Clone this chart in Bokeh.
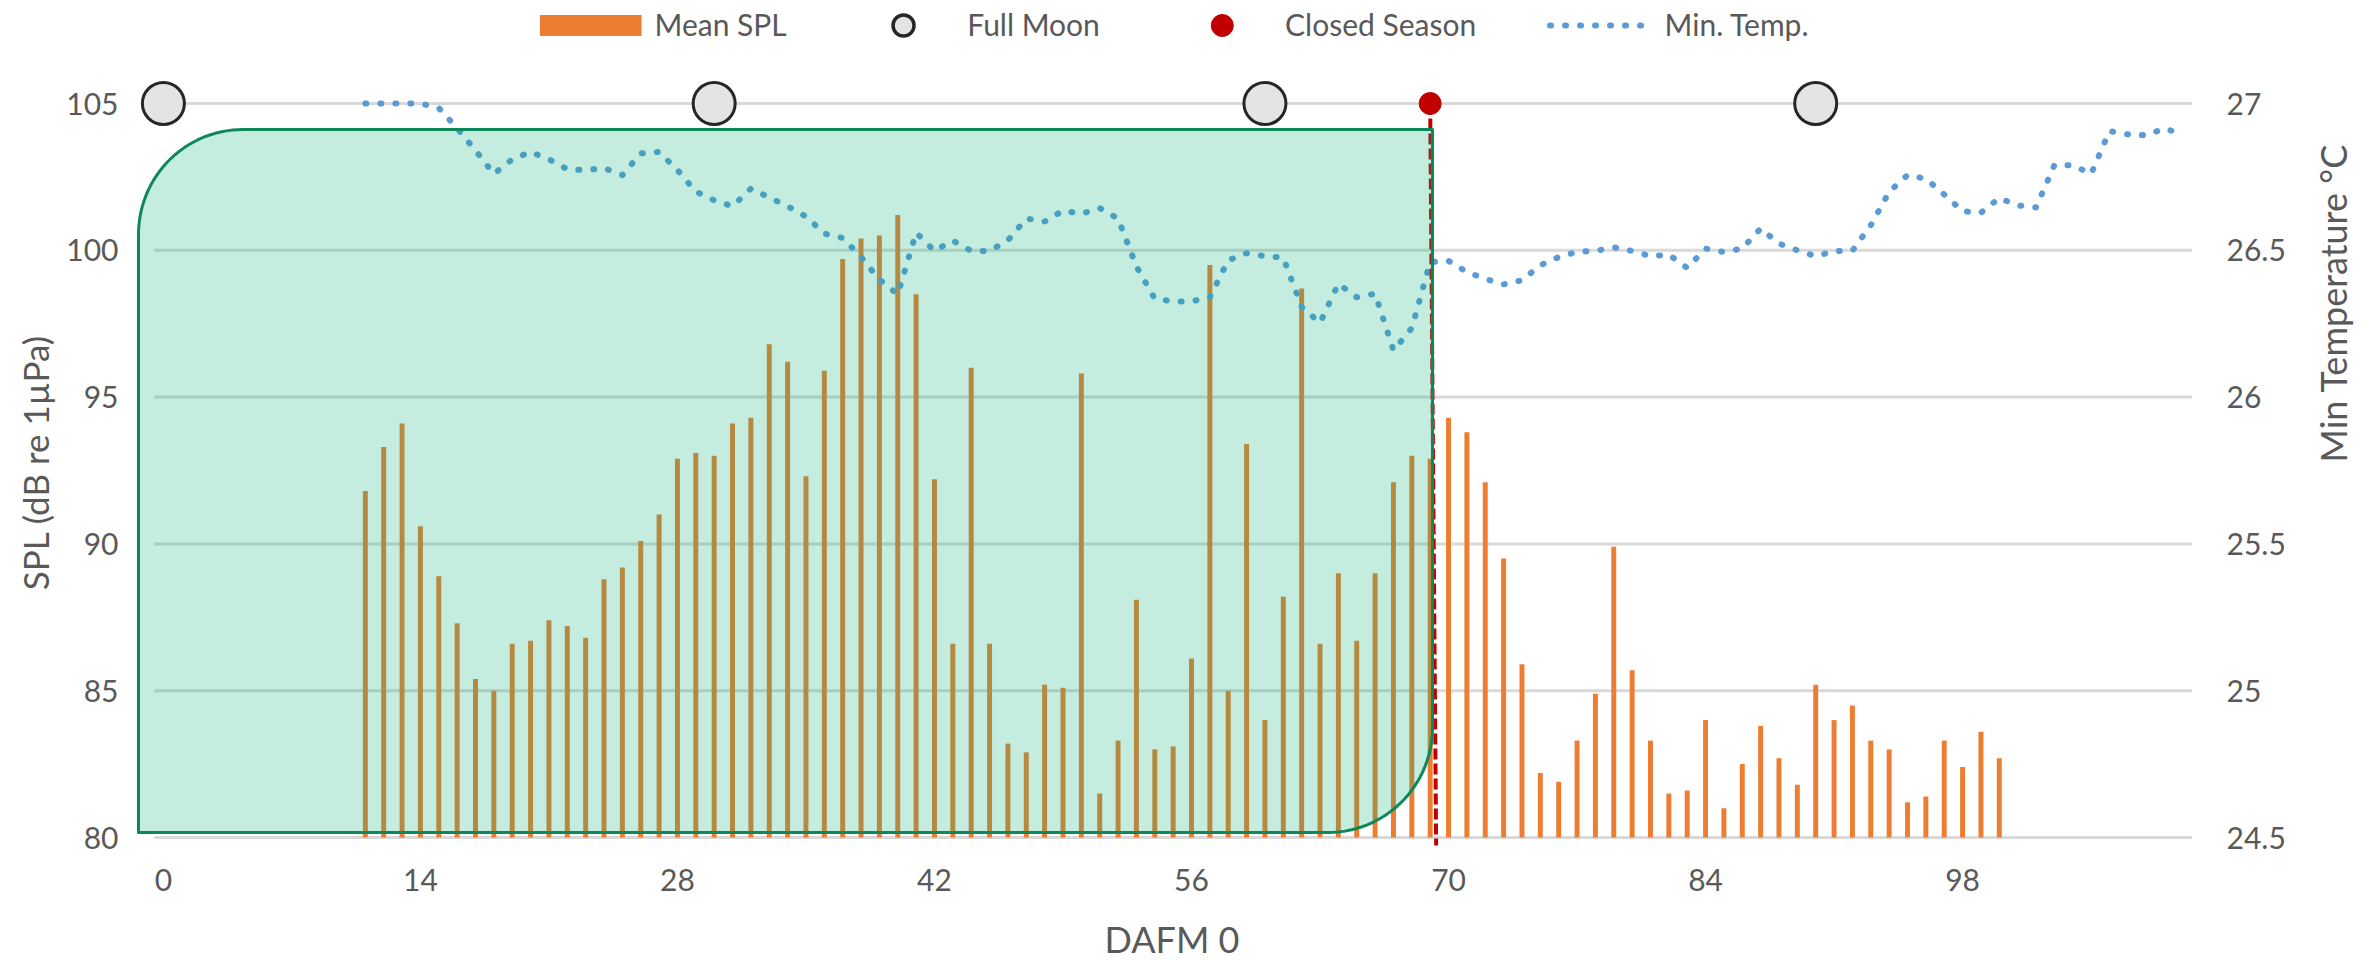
import math
import numpy as np
from bokeh.plotting import figure
from bokeh.layouts import column
from bokeh.models import Range1d, LinearAxis, FixedTicker, CustomJSTickFormatter
from bokeh.core.properties import value
from bokeh.embed import file_html
from bokeh.resources import INLINE

# ---------------- data ----------------
spl_days = list(range(11, 101))
spl_values = [
    91.8, 93.3, 94.1, 90.6, 88.9, 87.3, 85.4, 85.0, 86.6, 86.7,
    87.4, 87.2, 86.8, 88.8, 89.2, 90.1, 91.0, 92.9, 93.1, 93.0,
    94.1, 94.3, 96.8, 96.2, 92.3, 95.9, 99.7, 100.4, 100.5, 101.2,
    98.5, 92.2, 86.6, 96.0, 86.6, 83.2, 82.9, 85.2, 85.1, 95.8,
    81.5, 83.3, 88.1, 83.0, 83.1, 86.1, 99.5, 85.0, 93.4, 84.0,
    88.2, 98.7, 86.6, 89.0, 86.7, 89.0, 92.1, 93.0, 92.9, 94.3,
    93.8, 92.1, 89.5, 85.9, 82.2, 81.9, 83.3, 84.9, 89.9, 85.7,
    83.3, 81.5, 81.6, 84.0, 81.0, 82.5, 83.8, 82.7, 81.8, 85.2,
    84.0, 84.5, 83.3, 83.0, 81.2, 81.4, 83.3, 82.4, 83.6, 82.7,
]
temp_days = list(range(11, 111))
temp_values = [
    27.0, 27.0, 27.0, 27.0, 26.985, 26.915, 26.84, 26.76, 26.81, 26.835,
    26.81, 26.776, 26.773, 26.78, 26.756, 26.83, 26.835, 26.773, 26.70, 26.67,
    26.65, 26.71, 26.68, 26.65, 26.615, 26.557, 26.542, 26.477, 26.40, 26.35,
    26.56, 26.498, 26.533, 26.498, 26.498, 26.534, 26.608, 26.598, 26.635, 26.624,
    26.644, 26.608, 26.445, 26.335, 26.326, 26.326, 26.34, 26.466, 26.49, 26.48,
    26.475, 26.307, 26.253, 26.386, 26.34, 26.352, 26.159, 26.235, 26.46, 26.464,
    26.426, 26.403, 26.384, 26.398, 26.449, 26.477, 26.495, 26.498, 26.51, 26.498,
    26.48, 26.485, 26.44, 26.506, 26.494, 26.506, 26.574, 26.523, 26.5, 26.48,
    26.497, 26.499, 26.585, 26.699, 26.756, 26.744, 26.69, 26.633, 26.628, 26.678,
    26.653, 26.646, 26.79, 26.79, 26.76, 26.906, 26.895, 26.892, 26.915, 26.894,
]
full_moon_days = [0, 30, 60, 90]
full_moon_level = [105, 105, 105, 105]
closed_season_days = [69]
closed_season_level = [105]
x_ticks = [0, 14, 28, 42, 56, 70, 84, 98]
spl_ticks = [80, 85, 90, 95, 100, 105]
temp_ticks = [24.5, 25, 25.5, 26, 26.5, 27]
legend_labels = ["Mean SPL", "Full Moon", "Closed Season", "Min. Temp."]
x_title = "DAFM 0"

# ---------------- layout (page px) ----------------
W = 2379
LEG_H = 78                       # legend strip height
MAIN_H = 828                     # plot (frame + tick labels)
BOT_H = 54                       # x-title strip
FL, FR, FT, FB = 136, 2215, 78, 846   # plot frame edges (page coords)
X0_PX, PX_PER_DAY = 163.0, 18.43     # day 0 position
Y105_PX, Y80_PX = 103.0, 837.0       # 105 and 80 dB positions

spl_ppu = (Y80_PX - Y105_PX) / 25.0
t_ppu = (Y80_PX - Y105_PX) / 2.5
x_lo = (FL - X0_PX) / PX_PER_DAY
x_hi = (FR - X0_PX) / PX_PER_DAY
y_hi = 105 + (Y105_PX - FT) / spl_ppu
y_lo = 80 - (FB - Y80_PX) / spl_ppu
t_hi = 27 + (Y105_PX - FT) / t_ppu
t_lo = 24.5 - (FB - Y80_PX) / t_ppu


def px_x(px):
    return (px - X0_PX) / PX_PER_DAY


def px_y(py):
    return 105 - (py - Y105_PX) / spl_ppu


TEXT = "#595959"
FONT = "Lato"
ORANGE = "#ED7D31"
BLUE = "#5B9BD5"
RED = "#C00000"
MOON_FILL = "#E4E4E4"
MOON_LINE = "#262626"

p = figure(width=W, height=MAIN_H, x_range=Range1d(x_lo, x_hi), y_range=Range1d(y_lo, y_hi),
           output_backend="svg", toolbar_location=None,
           min_border_left=FL, min_border_right=W - FR, min_border_top=0,
           min_border_bottom=MAIN_H - (FB - LEG_H))
p.extra_y_ranges = {"temp": Range1d(t_lo, t_hi)}
p.outline_line_color = None
p.background_fill_color = "white"
p.border_fill_color = "white"
p.xgrid.visible = False
p.ygrid.visible = False

# gridlines spanning the category area (-0.5 .. 110.5)
p.segment(x0=[-0.5] * len(spl_ticks), x1=[110.5] * len(spl_ticks), y0=spl_ticks, y1=spl_ticks,
          line_color="#D9D9D9", line_width=3)

# bars
p.vbar(x=spl_days, top=spl_values, bottom=80, width=0.27, fill_color=ORANGE, line_color=None)

# temperature line (right axis)
p.line(temp_days, temp_values, y_range_name="temp", line_color=BLUE, line_width=6,
       line_dash="1 14", line_cap="round", line_join="round")

# closed season dashed line
slant = 6.0 / PX_PER_DAY
p.segment(x0=closed_season_days, y0=closed_season_level,
          x1=[d + slant for d in closed_season_days], y1=[px_y(FB - 1)],
          line_color=RED, line_width=4, line_dash="11 4")

# green rounded-diagonal rectangle (season shading)
L, R, T, B, r = 138.0, 1437.0, 129.0, 832.0, 105.0
pts = [(L, B), (L, T + r)]
for a in np.linspace(math.pi, 1.5 * math.pi, 30):
    pts.append((L + r + r * math.cos(a), T + r + r * math.sin(a)))
pts += [(R, T), (R, B - r)]
for a in np.linspace(0, 0.5 * math.pi, 30):
    pts.append((R - r + r * math.cos(a), B - r + r * math.sin(a)))
pts.append((L, B))
p.patch([px_x(a) for a, _ in pts], [px_y(b) for _, b in pts],
        fill_color="#00B07A", fill_alpha=0.23, line_color="#0E875B", line_width=3,
        line_join="round")

# markers
p.scatter(full_moon_days, full_moon_level, size=42, fill_color=MOON_FILL,
          line_color=MOON_LINE, line_width=3)
p.scatter(closed_season_days, closed_season_level, size=22, fill_color=RED,
          line_color=RED, line_width=1)


def style_axis(ax, title_size):
    ax.axis_line_color = None
    ax.major_tick_line_color = None
    ax.minor_tick_line_color = None
    ax.major_tick_out = 0
    ax.major_tick_in = 0
    ax.minor_tick_out = 0
    ax.minor_tick_in = 0
    ax.major_label_text_font = FONT
    ax.major_label_text_font_size = "30px"
    ax.major_label_text_color = TEXT
    ax.axis_label_text_font = FONT
    ax.axis_label_text_font_size = title_size
    ax.axis_label_text_font_style = "normal"
    ax.axis_label_text_color = TEXT


xa = p.xaxis[0]
style_axis(xa, "36px")
xa.ticker = FixedTicker(ticks=x_ticks)
xa.major_label_standoff = 22

ya = p.yaxis[0]
style_axis(ya, "35px")
ya.ticker = FixedTicker(ticks=spl_ticks)
ya.axis_label = "SPL (dB re 1µPa)"
ya.major_label_standoff = 18
ya.axis_label_standoff = 7

ra = LinearAxis(y_range_name="temp", ticker=FixedTicker(ticks=temp_ticks),
                formatter=CustomJSTickFormatter(code="return String(tick)"),
                axis_label="Min Temperature °C")
style_axis(ra, "36px")
ra.major_label_standoff = 19
ra.axis_label_standoff = 44
try:
    ra.axis_label_orientation = math.pi / 2
except Exception:
    pass
p.add_layout(ra, "right")


def strip(height):
    f = figure(width=W, height=height, x_range=Range1d(FL, FR), y_range=Range1d(height, 0),
               output_backend="svg", toolbar_location=None, x_axis_type=None, y_axis_type=None,
               min_border_left=FL, min_border_right=W - FR, min_border_top=0,
               min_border_bottom=0)
    f.outline_line_color = None
    f.background_fill_color = "white"
    f.border_fill_color = "white"
    return f


# ---------------- legend strip (x in page px over the plot frame) ----------------
lg = strip(LEG_H)
CY = 25.0
lg.quad(left=[541], right=[643], top=[CY - 10.5], bottom=[CY + 10.5],
        fill_color=ORANGE, line_color=None)
lg.scatter([906], [CY], size=21, fill_color=MOON_FILL, line_color=MOON_LINE, line_width=3.5)
lg.scatter([1226], [CY], size=22, fill_color=RED, line_color=RED, line_width=1)
lg.line([1555, 1651], [CY, CY], line_color=BLUE, line_width=6, line_dash="1 14",
        line_cap="round")
lg.text(x=[656, 970, 1289, 1670], y=[CY - 1.5] * 4, text=legend_labels,
        text_font=value(FONT), text_font_size="30px", text_color=TEXT,
        text_baseline="middle", text_align="left")

# ---------------- x-axis title strip ----------------
bt = strip(BOT_H)
TITLE_Y = 940 - (LEG_H + MAIN_H) - 1.5
bt.text(x=[(FL + FR) / 2], y=[TITLE_Y], text=[x_title], text_font=value(FONT),
        text_font_size="36px", text_color=TEXT, text_baseline="middle", text_align="center")

layout = column(lg, p, bt, spacing=0)
open("out.html", "w").write(file_html(layout, INLINE))
